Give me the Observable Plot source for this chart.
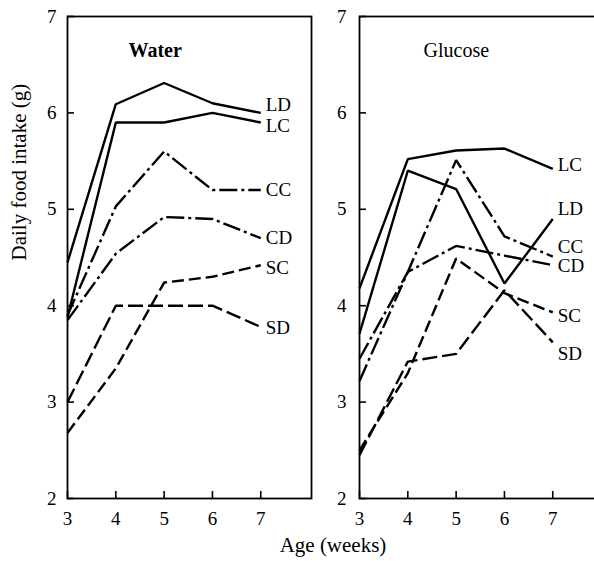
<!DOCTYPE html>
<html><head><meta charset="utf-8">
<script src="https://cdn.jsdelivr.net/npm/d3@7"></script>
<script src="https://cdn.jsdelivr.net/npm/@observablehq/plot@0.6"></script>
<style>
html,body{margin:0;padding:0;background:#fff;overflow:hidden;}
#wrap{position:relative;width:594px;height:561px;overflow:hidden;background:#fff;font-family:"Liberation Serif","Times New Roman",serif;color:#000;}
#wrap svg{position:absolute;top:0;}
#xlabel{position:absolute;left:0;width:666px;top:535px;text-align:center;font-size:21px;line-height:1;}
</style></head><body><div id="wrap"></div>
<script>
// ---- data ----
const weeks = [3, 4, 5, 6, 7];
const yTicks = [2, 3, 4, 5, 6, 7];
const seriesNames = ["LD", "LC", "CC", "CD", "SC", "SD"];
const panelTitles = ["Water", "Glucose"];

const waterLD = [4.45, 6.09, 6.31, 6.10, 6.00];
const waterLC = [3.88, 5.90, 5.90, 6.00, 5.90];
const waterCC = [3.90, 5.03, 5.60, 5.20, 5.20];
const waterCD = [3.85, 4.54, 4.92, 4.90, 4.70];
const waterSC = [2.68, 3.35, 4.24, 4.30, 4.42];
const waterSD = [3.00, 4.00, 4.00, 4.00, 3.78];

const glucoseLD = [3.71, 5.40, 5.21, 4.23, 4.90];
const glucoseLC = [4.18, 5.52, 5.61, 5.63, 5.42];
const glucoseCC = [3.22, 4.35, 5.51, 4.72, 4.51];
const glucoseCD = [3.45, 4.35, 4.62, 4.52, 4.42];
const glucoseSC = [2.50, 3.30, 4.49, 4.13, 3.93];
const glucoseSD = [2.45, 3.42, 3.50, 4.16, 3.62];

// label positions (value units) in order of seriesNames
const waterLabelY = [6.08, 5.87, 5.20, 4.70, 4.39, 3.77];
const glucoseLabelY = [5.00, 5.46, 4.61, 4.41, 3.89, 3.50];

// ---- styles ----
const dashes = {LD: null, LC: null, CC: "18,4,3,4", CD: "18,4,3,4", SC: "12,5", SD: "15,5"};
const FONT = '"Liberation Serif","Times New Roman",serif';

function panel(title, values, labelY, o) {
  const marks = [Plot.frame({stroke: "black", strokeWidth: 1.8})];
  seriesNames.forEach((s, i) => {
    const data = weeks.map((w, j) => ({series: s, week: w, value: values[i][j]}));
    marks.push(Plot.line(data, {x: "week", y: "value", stroke: "black", strokeWidth: 2.4,
      strokeDasharray: dashes[s], strokeLinejoin: "miter", strokeLinecap: "butt"}));
  });
  const lastWeek = weeks[weeks.length - 1];
  marks.push(Plot.text(seriesNames.map((s, i) => ({series: s, week: lastWeek, value: labelY[i]})),
    {x: "week", y: "value", text: "series", dx: 5, textAnchor: "start", fontSize: 19, fill: "black"}));
  marks.push(Plot.text([title], {frameAnchor: "top-left", dx: o.titleDx, dy: 26, textAnchor: "start",
    fontSize: 20, fontWeight: o.titleWeight, fill: "black"}));
  marks.push(Plot.axisY({ticks: yTicks, tickFormat: d3.format("d"), tickSize: -7, tickPadding: o.yPad, fontSize: 19, stroke: "black", strokeWidth: 1.6}));
  marks.push(Plot.axisX({ticks: weeks, tickFormat: d3.format("d"), tickSize: -7, tickPadding: 20, fontSize: 19, stroke: "black", strokeWidth: 1.6}));
  if (o.yLabel) {
    marks.push(Plot.text([o.yLabel], {frameAnchor: "left", rotate: -90, dx: -48, dy: 3, fontSize: 21, fill: "black"}));
  }
  const svg = Plot.plot({
    width: o.width, height: 530,
    marginLeft: o.marginLeft, marginRight: o.marginRight, marginTop: 16, marginBottom: 32,
    x: {domain: [3, 8.05], label: null},
    y: {domain: [2, 7], label: null},
    style: {fontFamily: FONT, fontSize: "19px", color: "black", background: "transparent", overflow: "visible"},
    marks
  });
  svg.style.left = o.left + "px";
  return svg;
}

const wrap = document.getElementById("wrap");
wrap.appendChild(panel(panelTitles[0],
  [waterLD, waterLC, waterCC, waterCD, waterSC, waterSD], waterLabelY,
  {left: 0, width: 320, marginLeft: 67, marginRight: 9, titleDx: 61, titleWeight: "bold", yPad: 18, yLabel: "Daily food intake (g)"}));
wrap.appendChild(panel(panelTitles[1],
  [glucoseLD, glucoseLC, glucoseCC, glucoseCD, glucoseSC, glucoseSD], glucoseLabelY,
  {left: 290, width: 320, marginLeft: 69, marginRight: 7, titleDx: 64, titleWeight: "normal", yPad: 20}));

const xl = document.createElement("div");
xl.id = "xlabel";
xl.textContent = "Age (weeks)";
wrap.appendChild(xl);
</script>
</body></html>
